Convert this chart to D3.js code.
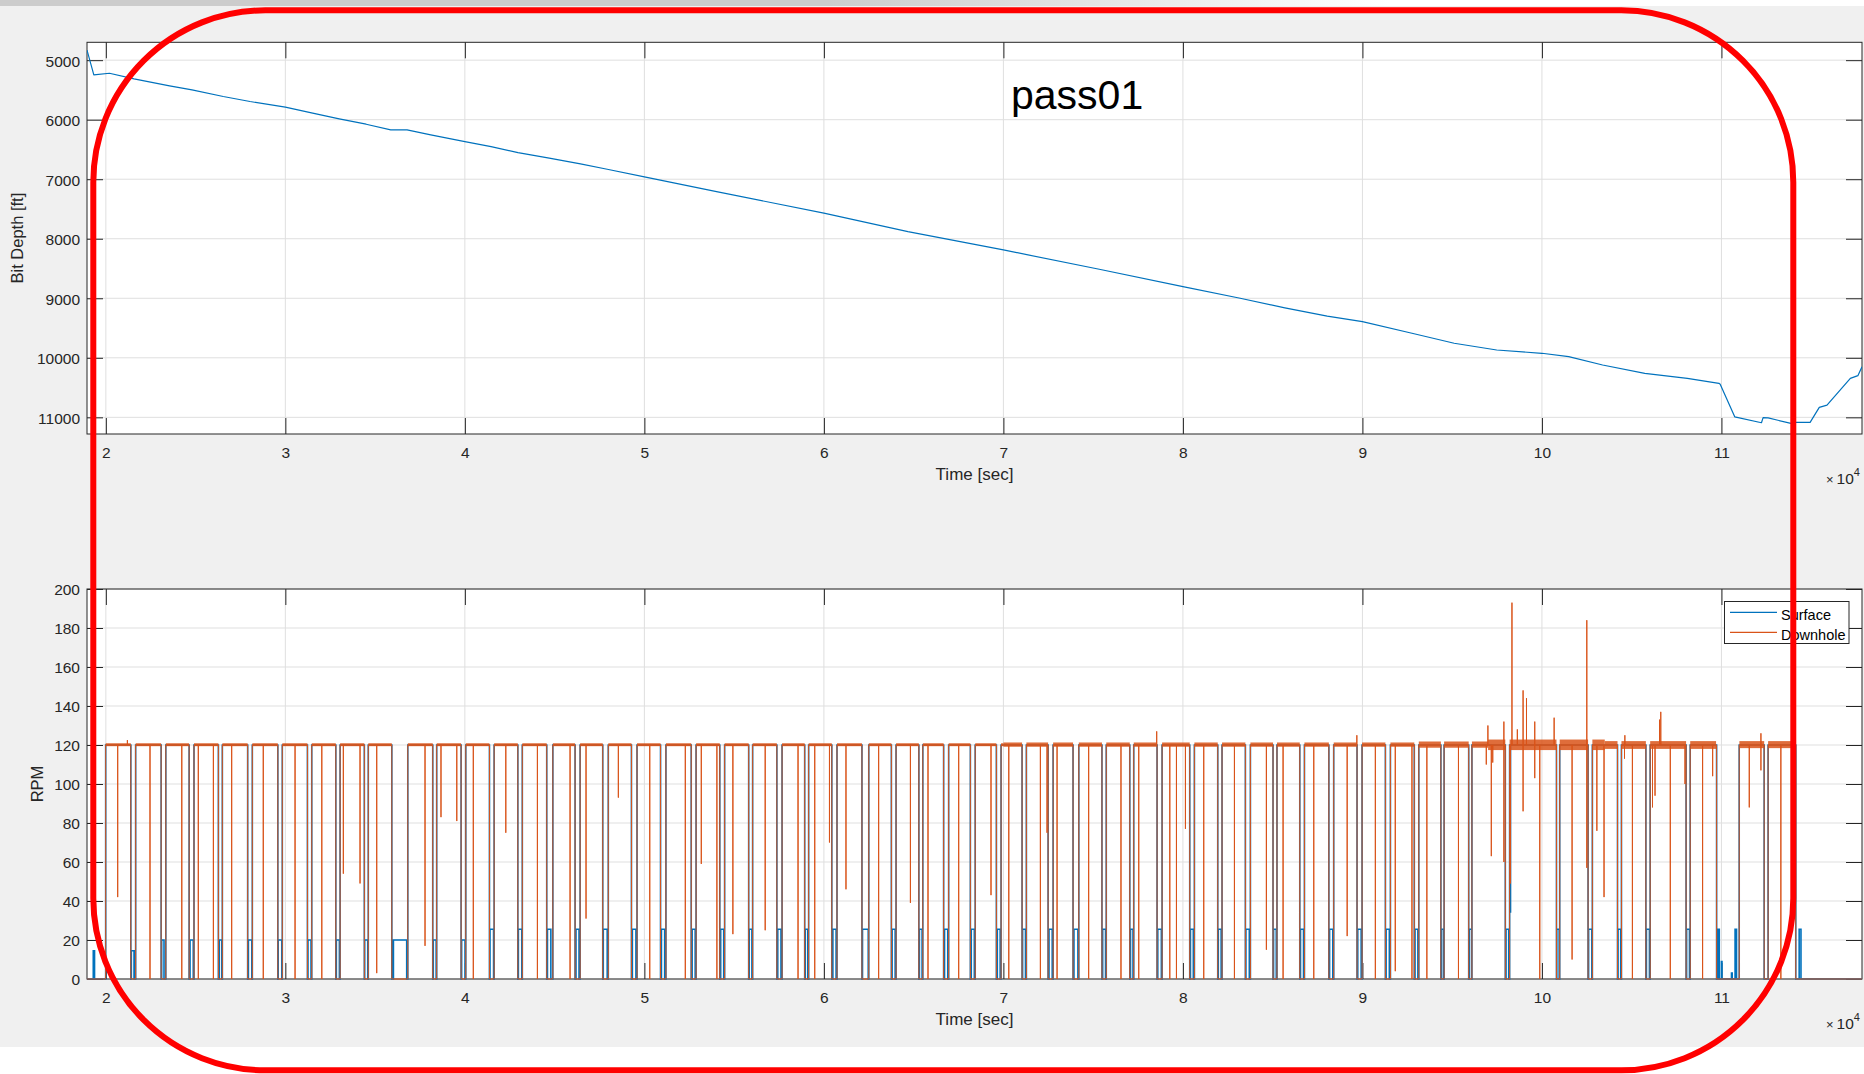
<!DOCTYPE html>
<html>
<head>
<meta charset="utf-8">
<script src="https://cdn.jsdelivr.net/npm/d3@7"></script>
<style>
html,body{margin:0;padding:0;background:#fff;}
svg{display:block;}
text{font-family:"Liberation Sans",Arial,Helvetica,sans-serif;}
</style>
</head>
<body>
<svg id="chart" width="1864" height="1074"></svg>
<script>
// ---------------- DATA ----------------
const titleText = "pass01";
const xLabel = "Time [sec]";
const topYLabel = "Bit Depth [ft]";
const botYLabel = "RPM";
const seriesNames = ["Surface", "Downhole"];

const xTicks = [20000, 30000, 40000, 50000, 60000, 70000, 80000, 90000, 100000, 110000];
const depthTicks = [5000, 6000, 7000, 8000, 9000, 10000, 11000];
const rpmTicks = [0, 20, 40, 60, 80, 100, 120, 140, 160, 180, 200];

// Bit depth [ft] vs time [sec]
const depthTime = [18950, 19330, 20200, 21570, 23550, 24800, 26540, 28030, 30000, 31520, 33000, 34500,
  35870, 36780, 38100, 40000, 41460, 42960, 44700, 46440, 47930, 50000, 54020, 60000, 64680, 70000,
  75340, 80000, 83190, 85680, 88040, 90000, 92760, 95110, 97480, 100000, 101490, 103380, 105730,
  108100, 109860, 109930, 110740, 112230, 112320, 112600, 113870, 114000, 114940, 115450, 115880,
  117180, 117600, 117830];
const depthValue = [4830, 5247, 5220, 5314, 5432, 5499, 5611, 5695, 5790, 5891, 5987, 6076,
  6171, 6171, 6255, 6368, 6452, 6553, 6647, 6743, 6832, 6960, 7208, 7571, 7880, 8188,
  8513, 8805, 9000, 9160, 9300, 9393, 9588, 9756, 9869, 9924, 9981, 10121, 10261,
  10345, 10429, 10444, 10992, 11091, 11005, 11010, 11101, 11085, 11085, 10832, 10795,
  10345, 10300, 10150];

// Connections: [downhole off, downhole on, surface bar start, surface bar end, surface RPM in bar]
const connections = [
  [18950, 19990, 19300, 19370, 14.5], [21390, 21660, 21420, 21570, 14.5], [23080, 23340, 23110, 23240, 20],
  [24640, 24910, 24690, 24870, 20], [26270, 26490, 26320, 26460, 20], [27900, 28160, 27940, 28130, 20],
  [29580, 29830, 29600, 29800, 20], [31230, 31470, 31260, 31430, 20], [32810, 33050, 32840, 33010, 20],
  [34400, 34620, 34420, 34590, 20], [35930, 36820, 36020, 36760, 20], [38210, 38430, 38240, 38400, 20],
  [39790, 40050, 39820, 40010, 20], [41370, 41630, 41400, 41600, 25.5], [42950, 43200, 42980, 43170, 25.5],
  [44560, 44900, 44600, 44790, 25.5], [46140, 46420, 46190, 46360, 25.5], [47680, 47990, 47710, 47930, 25.5],
  [49280, 49590, 49330, 49530, 25.5], [50900, 51200, 50950, 51130, 25.5], [52610, 52880, 52660, 52830, 25.5],
  [54200, 54470, 54250, 54420, 25.5], [55810, 56030, 55840, 55990, 25.5], [57380, 57670, 57430, 57610, 25.5],
  [58930, 59150, 58960, 59100, 25.5], [60440, 60730, 60500, 60680, 25.5], [62120, 62500, 62150, 62470, 25.5],
  [63760, 64020, 63800, 63970, 25.5], [65290, 65510, 65320, 65470, 25.5], [66670, 66950, 66720, 66900, 25.5],
  [68160, 68430, 68210, 68380, 25.5], [69610, 69870, 69660, 69820, 25.5], [71040, 71280, 71070, 71230, 25.5],
  [72490, 72770, 72540, 72720, 25.5], [73880, 74200, 73930, 74150, 25.5], [75490, 75730, 75530, 75690, 25.5],
  [77040, 77260, 77080, 77220, 25.5], [78560, 78840, 78600, 78800, 25.5], [80380, 80640, 80420, 80580, 25.5],
  [81940, 82180, 81970, 82130, 25.5], [83480, 83760, 83510, 83700, 25.5], [85020, 85240, 85050, 85200, 25.5],
  [86510, 86770, 86550, 86720, 25.5], [88130, 88400, 88170, 88350, 25.5], [89700, 89980, 89740, 89930, 25.5],
  [91280, 91560, 91320, 91500, 25.5], [92890, 93140, 92930, 93090, 25.5], [94370, 94550, 94400, 94520, 25.5],
  [95920, 96100, 95950, 96080, 25.5], [97960, 98200, 98000, 98150, 25.5], [100810, 100990, 100830, 100960, 25.5],
  [102570, 102810, 102600, 102780, 25.5], [104210, 104430, 104240, 104390, 25.5], [105790, 106030, 105820, 105990, 25.5],
  [108030, 108260, 108060, 108220, 25.5], [109730, 110990, 109790, 109880, 25.5], [112380, 112600, 0, 0, 0],
  [114140, 117830, 114330, 114430, 25.5]
];
// extra surface RPM bars inside the long stop near 1.1e5: [start, end, rpm]
const extraSurfaceBars = [[110000, 110030, 9], [110560, 110600, 3], [110760, 110840, 25.5]];
// surface RPM short dips: [time, rpm]
const surfaceDips = [[98250, 34]];

// downhole RPM: short full drops to 0 (time)
const downholeDrops = [22460, 24230, 25150, 25990, 27010, 28770, 30540, 32030, 40470, 44040, 45860,
  50300, 52280, 54040, 58560, 59490, 63050, 65800, 67510, 70300, 72060, 72990, 74750, 76550, 77540,
  79270, 79640, 81160, 82870, 85580, 87290, 90720, 92760, 93590, 95350, 99880, 105040, 107150,
  108950, 113310];
// downhole RPM: partial dips [time, minimum rpm]
const downholeDips = [[20660, 42], [33230, 54], [34160, 49], [35090, 3], [37780, 17], [38670, 83],
  [39550, 81], [42280, 75], [46750, 31], [48550, 93], [53170, 59], [54930, 23], [56730, 25],
  [60310, 70], [61230, 46], [64820, 39], [69310, 43], [72430, 75], [80140, 77], [84650, 15],
  [89150, 22], [91830, 4], [96900, 110], [97180, 63], [97260, 111], [97880, 60], [98250, 49], [98950, 86],
  [99600, 103], [101680, 10], [102500, 57], [103060, 76], [103460, 42], [104600, 113], [106160, 88], [106300, 94],
  [107970, 100], [109510, 104], [111550, 88], [112200, 107]];
// downhole RPM: upward spikes [time, maximum rpm]
const downholeSpikes = [[21200, 122.5], [78540, 127], [89690, 125], [96990, 130], [97880, 132],
  [98330, 193], [98630, 128], [98950, 148], [99140, 144], [99600, 132], [100680, 134], [102500, 184],
  [104620, 125], [106550, 133], [106620, 137], [112200, 126]];
// downhole RPM noise envelope while rotating: [from, to, low rpm, high rpm]
const downholeNoise = [[18950, 70000, 119.4, 120.9], [70000, 93000, 119.1, 121.3], [93000, 97000, 118.6, 121.8],
  [97000, 103500, 117.4, 122.8], [103500, 109700, 118, 122], [111000, 114200, 118.4, 122]];

// ---------------- DRAWING ----------------
const W = 1864, H = 1074;
const BLUE = "#0072BD", ORANGE = "#D95319", AXC = "#262626";
const FONT = '"Liberation Sans",Arial,Helvetica,sans-serif';
const svg = d3.select("#chart");
const defs = svg.append("defs");

svg.append("rect").attr("x", 0).attr("y", 0).attr("width", W).attr("height", H).attr("fill", "#fff");
svg.append("rect").attr("x", 0).attr("y", 6).attr("width", W).attr("height", 1041).attr("fill", "#f0f0f0");
const grad = defs.append("linearGradient").attr("id", "strip").attr("gradientUnits", "userSpaceOnUse")
  .attr("x1", 826).attr("x2", 1390).attr("y1", 0).attr("y2", 0);
grad.append("stop").attr("offset", 0).attr("stop-color", "#cccccc");
grad.append("stop").attr("offset", 1).attr("stop-color", "#ffffff");
svg.append("rect").attr("x", 0).attr("y", 0).attr("width", W).attr("height", 6).attr("fill", "url(#strip)");

const L = 87, R = 1862;
const topArea = {t: 42.3, b: 434};
const botArea = {t: 589, b: 979};
const xDomain = [18950, 117830];
const x = d3.scaleLinear().domain(xDomain).range([L, R]);
const yTop = d3.scaleLinear().domain([4700, 11280]).range([topArea.t, topArea.b]);
const yBot = d3.scaleLinear().domain([0, 200]).range([botArea.b, botArea.t]);

function panel(y, yTicks, area, id, yLabel, yLabelX) {
  const g = svg.append("g");
  g.append("rect").attr("x", L).attr("y", area.t).attr("width", R - L).attr("height", area.b - area.t).attr("fill", "#fff");
  g.append("g").selectAll("line").data(xTicks).join("line")
    .attr("x1", d => x(d)).attr("x2", d => x(d)).attr("y1", area.t).attr("y2", area.b)
    .attr("stroke", "#dfdfdf").attr("stroke-width", 1);
  g.append("g").selectAll("line").data(yTicks).join("line")
    .attr("x1", L).attr("x2", R).attr("y1", d => y(d)).attr("y2", d => y(d))
    .attr("stroke", "#dfdfdf").attr("stroke-width", 1);

  g.append("g").attr("transform", `translate(0,${area.b})`)
    .call(d3.axisBottom(x).tickValues(xTicks).tickSizeInner(-16).tickSizeOuter(0).tickPadding(13)
      .tickFormat(d => d3.format("d")(d / 1e4)));
  g.append("g").attr("transform", `translate(0,${area.t})`)
    .call(d3.axisTop(x).tickValues(xTicks).tickSizeInner(-16).tickSizeOuter(0).tickFormat(""));
  g.append("g").attr("transform", `translate(${L},0)`)
    .call(d3.axisLeft(y).tickValues(yTicks).tickSizeInner(-16).tickSizeOuter(0).tickPadding(7).tickFormat(d3.format("d")));
  g.append("g").attr("transform", `translate(${R},0)`)
    .call(d3.axisRight(y).tickValues(yTicks).tickSizeInner(-16).tickSizeOuter(0).tickFormat(""));
  g.selectAll(".domain").remove();
  g.selectAll(".tick line").attr("stroke", AXC).attr("stroke-width", 1);
  g.selectAll(".tick text").attr("fill", AXC).attr("font-size", 15.5).attr("font-family", FONT);
  g.selectAll("g").filter(function () { return this.getAttribute("font-size") !== null; })
    .attr("font-size", 15.5).attr("font-family", FONT);
  g.selectAll(".tick text").filter(function () { return this.getAttribute("dy") === "0.32em"; }).attr("dy", "0.38em");

  g.append("rect").attr("x", L).attr("y", area.t).attr("width", R - L).attr("height", area.b - area.t)
    .attr("fill", "none").attr("stroke", AXC).attr("stroke-width", 1);

  defs.append("clipPath").attr("id", id).append("rect")
    .attr("x", L).attr("y", area.t - 1).attr("width", R - L).attr("height", area.b - area.t + 2);

  g.append("text").attr("x", (L + R) / 2).attr("y", area.b + 46).attr("text-anchor", "middle")
    .attr("font-size", 17).attr("fill", AXC).text(xLabel);
  const ex = g.append("text").attr("x", 1826).attr("y", area.b + 50).attr("font-size", 15.5).attr("fill", AXC);
  ex.append("tspan").attr("font-size", 13).text("\u00d7");
  ex.append("tspan").attr("dx", 3).text("10");
  ex.append("tspan").attr("font-size", 11).attr("dy", -8).text("4");
  g.append("text").attr("transform", `translate(${yLabelX},${(area.t + area.b) / 2}) rotate(-90)`)
    .attr("text-anchor", "middle").attr("font-size", 16.5).attr("fill", AXC).text(yLabel);
  return g;
}

// ---- top panel ----
const gTop = panel(yTop, depthTicks, topArea, "clipTop", topYLabel, 23);
const depthPts = depthTime.map((t, i) => [t, depthValue[i]]);
gTop.append("path").attr("clip-path", "url(#clipTop)")
  .attr("d", d3.line().x(d => x(d[0])).y(d => yTop(d[1]))(depthPts))
  .attr("fill", "none").attr("stroke", BLUE).attr("stroke-width", 1.2).attr("stroke-linejoin", "round");

// ---- bottom panel ----
const gBot = panel(yBot, rpmTicks, botArea, "clipBot", botYLabel, 43);
const X0 = xDomain[0], X1 = xDomain[1];

function buildSurface() {
  const ev = [];
  connections.forEach(c => ev.push({t: c[0], kind: "conn", c}));
  surfaceDips.forEach(d => ev.push({t: d[0], kind: "dip", v: d[1]}));
  ev.sort((a, b) => a.t - b.t);
  const allBars = connections.filter(c => c[4] > 0).map(c => [c[2], c[3], c[4]]).concat(extraSurfaceBars);
  const pts = [];
  ev.forEach(e => {
    if (e.kind === "conn") {
      const [off, on] = e.c;
      if (off > X0) pts.push([off, 120]);
      pts.push([off, 0]);
      allBars.filter(b => b[0] >= off && b[1] <= on).sort((a, b) => a[0] - b[0]).forEach(b => {
        pts.push([b[0], 0], [b[0], b[2]], [b[1], b[2]], [b[1], 0]);
      });
      pts.push([on, 0]);
      if (on < X1) pts.push([on, 120]);
    } else {
      pts.push([e.t, 120], [e.t, e.v], [e.t, 120]);
    }
  });
  return pts;
}

function buildDownhole() {
  const ev = [];
  connections.forEach(c => ev.push({t: c[0], kind: "conn", c}));
  downholeDrops.forEach(t => ev.push({t, kind: "dip", v: 0}));
  downholeDips.forEach(d => ev.push({t: d[0], kind: "dip", v: d[1]}));
  downholeSpikes.forEach(d => ev.push({t: d[0], kind: "dip", v: d[1]}));
  ev.sort((a, b) => a.t - b.t);
  const pts = [];
  ev.forEach(e => {
    if (e.kind === "conn") {
      const [off, on] = e.c;
      if (off > X0) pts.push([off, 120]);
      pts.push([off, 0], [on, 0]);
      if (on < X1) pts.push([on, 120]);
    } else {
      pts.push([e.t, 120], [e.t, e.v], [e.t, 120]);
    }
  });
  return pts;
}

const lineBot = d3.line().x(d => x(d[0])).y(d => yBot(d[1]));
const dataBot = gBot.append("g").attr("clip-path", "url(#clipBot)");
dataBot.append("path").attr("d", lineBot(buildSurface()))
  .attr("fill", "none").attr("stroke", BLUE).attr("stroke-width", 1.6);

// noise envelope on rotating plateaus
const plateaus = [];
for (let i = 0; i < connections.length - 1; i++) plateaus.push([connections[i][1], connections[i + 1][0]]);
const bands = [];
plateaus.forEach(p => downholeNoise.forEach(n => {
  const a = Math.max(p[0], n[0]), b = Math.min(p[1], n[1]);
  if (b > a) bands.push([a, b, n[2], n[3]]);
}));
dataBot.append("g").selectAll("rect").data(bands).join("rect")
  .attr("x", d => x(d[0])).attr("width", d => x(d[1]) - x(d[0]))
  .attr("y", d => yBot(d[3])).attr("height", d => yBot(d[2]) - yBot(d[3]))
  .attr("fill", ORANGE).attr("opacity", 0.85);

dataBot.append("path").attr("d", lineBot(buildDownhole()))
  .attr("fill", "none").attr("stroke", ORANGE).attr("stroke-width", 1);

// legend
const lg = svg.append("g");
lg.append("rect").attr("x", 1724.5).attr("y", 601.5).attr("width", 124.5).attr("height", 42)
  .attr("fill", "#fff").attr("stroke", AXC).attr("stroke-width", 1);
[BLUE, ORANGE].forEach((c, i) => {
  const yy = 612.3 + i * 20;
  lg.append("line").attr("x1", 1730).attr("x2", 1777).attr("y1", yy).attr("y2", yy)
    .attr("stroke", c).attr("stroke-width", 1.2);
  lg.append("text").attr("x", 1781).attr("y", yy + 7.5).attr("font-size", 14.5).attr("fill", "#000")
    .text(seriesNames[i]);
});

// title annotation
svg.append("text").attr("x", 1011).attr("y", 109.3).attr("font-size", 41).attr("fill", "#000").text(titleText);

// red highlight outline
svg.append("rect").attr("x", 93.3).attr("y", 10.3).attr("width", 1700).attr("height", 1060)
  .attr("rx", 172).attr("ry", 172).attr("fill", "none").attr("stroke", "#ff0000").attr("stroke-width", 6);
</script>
</body>
</html>
